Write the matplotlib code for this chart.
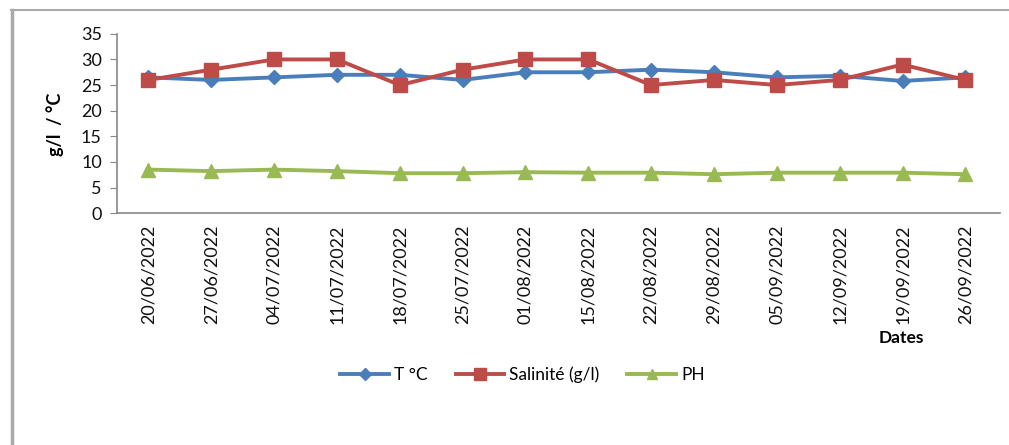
import matplotlib
matplotlib.use("Agg")
import matplotlib.pyplot as plt
from matplotlib.lines import Line2D

plt.rcParams['font.family'] = ['Lato', 'DejaVu Sans']

dates = ["20/06/2022", "27/06/2022", "04/07/2022", "11/07/2022", "18/07/2022",
         "25/07/2022", "01/08/2022", "15/08/2022", "22/08/2022", "29/08/2022",
         "05/09/2022", "12/09/2022", "19/09/2022", "26/09/2022"]
temp = [26.5, 26.0, 26.5, 27.0, 27.0, 26.0, 27.5, 27.5, 28.0, 27.5, 26.5, 26.8, 25.8, 26.5]
salinite = [26, 28, 30, 30, 25, 28, 30, 30, 25, 26, 25, 26, 29, 26]
ph = [8.5, 8.2, 8.5, 8.2, 7.8, 7.8, 8.0, 7.9, 7.9, 7.6, 7.9, 7.9, 7.9, 7.6]

blue = "#4A7EBB"
red = "#BE4B48"
green = "#98B954"

fig = plt.figure(figsize=(10.09, 4.45), dpi=100)
ax = fig.add_axes([0.116, 0.521, 0.875, 0.403])
x = list(range(len(dates)))
ax.plot(x, temp, color=blue, lw=2.8, marker="D", ms=7.5, label="T °C", zorder=3)
ax.plot(x, salinite, color=red, lw=2.8, marker="s", ms=9.5, label="Salinité (g/l)", zorder=4)
ax.plot(x, ph, color=green, lw=2.8, marker="^", ms=9.5, label="PH", zorder=3)

ax.set_xlim(-0.5, len(dates) - 0.45)
ax.set_ylim(0, 35)
ax.set_yticks(range(0, 36, 5))
ax.set_xticks(x)
ax.set_xticklabels(dates, rotation=90, fontsize=13, color="#111111")
ax.tick_params(axis="x", length=0, pad=8)
ax.tick_params(axis="y", length=5, color="#888888", labelsize=13, labelcolor="#111111", pad=6)
for s in ["top", "right"]:
    ax.spines[s].set_visible(False)
for s in ["left", "bottom"]:
    ax.spines[s].set_color("#888888")
    ax.spines[s].set_linewidth(1.2)

fig.text(0.055, 0.72, "g/l  / °C", rotation=90, fontsize=13, fontweight="bold",
         ha="center", va="center")
fig.text(0.893, 0.24, "Dates", fontsize=12.5, fontweight="bold", ha="center", va="center",
         bbox=dict(facecolor="white", edgecolor="none", pad=0.5))

handles = [Line2D([], [], color=blue, lw=2.8, marker="D", ms=6),
           Line2D([], [], color=red, lw=2.8, marker="s", ms=8),
           Line2D([], [], color=green, lw=2.8, marker="^", ms=7)]
fig.legend(handles, ["T °C", "Salinité (g/l)", "PH"], loc="center",
           bbox_to_anchor=(0.518, 0.157), ncol=3, frameon=False, fontsize=12.5,
           handlelength=2.8, columnspacing=1.6, handletextpad=0.3)

# outer border (top and left)
fig.add_artist(Line2D([0.011, 1.0], [0.977, 0.977], color="#AAAAAA", lw=1.5,
                      transform=fig.transFigure))
fig.add_artist(Line2D([0.012, 0.012], [0.0, 0.977], color="#AAAAAA", lw=2.5,
                      transform=fig.transFigure))

fig.savefig("out.png", dpi=100, facecolor="white")
